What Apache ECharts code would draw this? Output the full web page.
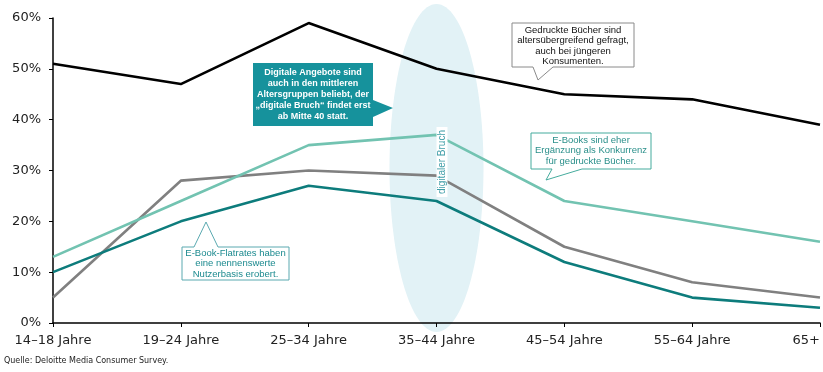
<!DOCTYPE html>
<html><head><meta charset="utf-8">
<script src="https://cdn.jsdelivr.net/npm/echarts@6/dist/echarts.min.js"></script>
<style>html,body{margin:0;padding:0;background:#fff}#c{width:823px;height:372px}</style>
</head><body><div id="c"></div>
<script>
const categories = ['14–18 Jahre','19–24 Jahre','25–34 Jahre','35–44 Jahre','45–54 Jahre','55–64 Jahre','65+'];
const printedBooks = [51, 47, 59, 50, 45, 44, 39];
const eBooks = [13, 24, 35, 37, 24, 20, 16];
const seriesGray = [5, 28, 30, 29, 15, 8, 5];
const flatrates = [10, 20, 27, 24, 12, 5, 3];
const yTicks = [0, 10, 20, 30, 40, 50, 60];

const chart = echarts.init(document.getElementById('c'), null, {renderer: 'canvas'});
const FONT = 'DejaVu Sans';
const ANN = 'Liberation Sans';
function line(name, data, color, z) {
  return {name, type: 'line', data, symbol: 'none', z,
    lineStyle: {color, width: 2.6}, itemStyle: {color}};
}
chart.setOption({
  animation: false,
  grid: {left: 53, right: 0, top: 18, bottom: 49, containLabel: false},
  xAxis: {type: 'category', data: categories, boundaryGap: false,
    axisLine: {lineStyle: {color: '#000', width: 1.5}},
    axisTick: {show: true, length: 4, lineStyle: {color: '#000'}},
    axisLabel: {color: '#222', fontFamily: FONT, fontSize: 13, margin: 11, alignMaxLabel: 'right', showMaxLabel: true}},
  yAxis: {type: 'value', min: yTicks[0], max: yTicks[yTicks.length-1], interval: 10,
    splitLine: {show: false},
    axisLine: {show: true, lineStyle: {color: '#000', width: 1.5}},
    axisTick: {show: true, length: 4, lineStyle: {color: '#000'}},
    axisLabel: {color: '#222', fontFamily: FONT, fontSize: 13, margin: 12, formatter: v => v + '%'}},
  series: [
    line('Gedruckte Bücher', printedBooks, '#000000', 5),
    line('E-Books', eBooks, '#72c3b1', 4),
    line('Grau', seriesGray, '#808080', 3),
    line('E-Book-Flatrates', flatrates, '#0d7c7c', 6)
  ]
});

const cx = chart.convertToPixel({xAxisIndex: 0}, categories[3]);

function textEl(x, y, text, color, font, size, weight, lh) {
  return {type: 'text', x, y, z: 101,
    style: {text, fill: color, font: (weight||'normal') + ' ' + size + 'px "' + font + '"', align: 'center', verticalAlign: 'top', lineHeight: lh}};
}
chart.setOption({graphic: [
  {type: 'ellipse', z: -10, silent: true, shape: {cx: cx, cy: 168, rx: 47, ry: 164}, style: {fill: '#e2f2f6'}},
  // digitaler Bruch label
  {type: 'rect', z: 50, shape: {x: cx, y: 127, width: 11, height: 70}, style: {fill: '#fff'}},
  {type: 'text', z: 51, x: cx + 5.5, y: 162, rotation: Math.PI/2,
    style: {text: 'digitaler Bruch', fill: '#3f9ea8', font: '10px "Liberation Sans"', align: 'center', verticalAlign: 'middle'}},
  // dark box
  {type: 'polygon', z: 100, shape: {points: [[253,63],[373,63],[373,100],[393,108],[373,117],[373,126],[253,126]]}, style: {fill: '#16929c'}},
  textEl(313, 67, 'Digitale Angebote sind\nauch in den mittleren\nAltersgruppen beliebt, der\n„digitale Bruch“ findet erst\nab Mitte 40 statt.', '#fff', ANN, 9, 'bold', 11),
  // printed books callout
  {type: 'polygon', z: 100, shape: {points: [[512,23],[634,23],[634,67],[553,67],[538,80],[533,67],[512,67]]}, style: {fill: '#fff', stroke: '#8a8a8a', lineWidth: 1}},
  textEl(573, 25, 'Gedruckte Bücher sind\naltersübergreifend gefragt,\nauch bei jüngeren\nKonsumenten.', '#111', ANN, 9.5, 'normal', 10.5),
  // E-Books callout
  {type: 'polygon', z: 100, shape: {points: [[531,133],[651,133],[651,169],[582,169],[546,180],[552,169],[531,169]]}, style: {fill: '#fff', stroke: '#45ab9d', lineWidth: 1}},
  textEl(591, 135, 'E-Books sind eher\nErgänzung als Konkurrenz\nfür gedruckte Bücher.', '#2a8f8a', ANN, 9.5, 'normal', 10.5),
  // Flatrates callout
  {type: 'polygon', z: 100, shape: {points: [[182,247],[194,247],[206,222],[218,247],[289,247],[289,280],[182,280]]}, style: {fill: '#fff', stroke: '#5aa9b0', lineWidth: 1}},
  textEl(235.5, 248, 'E-Book-Flatrates haben\neine nennenswerte\nNutzerbasis erobert.', '#1c8a8f', ANN, 9.5, 'normal', 10.5),
  // source
  {type: 'text', x: 4, y: 357, z: 100, style: {text: 'Quelle: Deloitte Media Consumer Survey.', fill: '#222', font: '8px "DejaVu Sans"', align: 'left', verticalAlign: 'top'}}
]});
</script></body></html>
